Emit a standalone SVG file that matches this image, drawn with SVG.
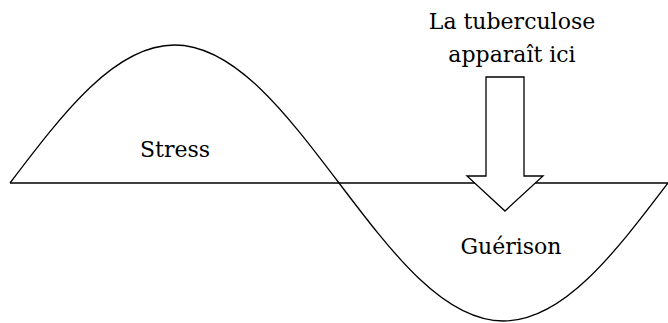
<svg xmlns="http://www.w3.org/2000/svg" width="668" height="323" viewBox="0 0 668 323">
<style>
.ln{fill:none;stroke:#000;stroke-width:1.3}
.ar{fill:#fff;stroke:#000;stroke-width:1.3;stroke-linejoin:miter}
.t{font-family:"DejaVu Serif",serif;font-size:22px;fill:#000;text-anchor:middle}
</style>
<rect width="668" height="323" fill="#fff"/>
<g id="connectors">
<path class="ln" d="M10,183 H668"/>
<path class="ln" d="M10,183 C63.65,112.3 114.96,45 174.5,45 C234.04,45 285.35,112.3 339,183 C392.65,253.7 443.96,321 503.5,321 C563.04,321 614.35,253.7 668,183"/>
</g>
<g id="arrow">
<polygon class="ar" points="486,77 524,77 524,176 543,176 505,211 467,176 486,176"/>
</g>
<g id="label-tb">
<text class="t" x="512" y="29">La tuberculose</text>
<text class="t" x="512" y="62">apparaît ici</text>
</g>
<g id="stress"><text class="t" x="175" y="157">Stress</text></g>
<g id="guerison"><text class="t" x="511" y="254">Guérison</text></g>
</svg>
